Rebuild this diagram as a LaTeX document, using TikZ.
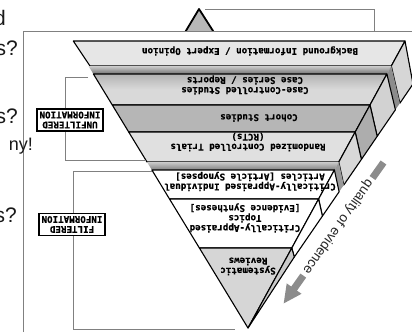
\documentclass[tikz,border=0pt]{standalone}
\usepackage{fontspec}
\setmainfont{Liberation Sans}
\newfontfamily\slabfont{DejaVu Sans Mono}[BoldFont={DejaVu Sans Mono Bold},BoldFeatures={FakeBold=0.5}]
\definecolor{apexgray}{HTML}{B8B8B8}
\definecolor{bgfill}{HTML}{E6E6E6}
\definecolor{bgside}{HTML}{D6D6D6}
\definecolor{ccfill}{HTML}{D9D9D9}
\definecolor{ccside}{HTML}{D2D2D2}
\definecolor{cofill}{HTML}{B6B6B6}
\definecolor{coside}{HTML}{ADADAD}
\definecolor{rcfill}{HTML}{E0E0E0}
\definecolor{rcside}{HTML}{D8D8D8}
\definecolor{srfill}{HTML}{D6D6D6}
\definecolor{srside}{HTML}{CACACA}
\definecolor{arrowgray}{HTML}{8C8C8C}
\tikzset{
  edge/.style={draw=black, line width=1.1pt, line join=round},
  lbl/.style={font={\slabfont\bfseries\fontsize{9.2}{10}\selectfont}, rotate=180,
    align=center, inner sep=0pt, text=black},
  tagbox/.style={draw=black, line width=1.2pt, fill=white,
    font={\slabfont\bfseries\fontsize{9.2}{10}\selectfont}, rotate=180,
    align=center, inner sep=2.5pt},
  guide/.style={draw=black!50, line width=0.8pt},
  slide/.style={font={\fontsize{21}{24}\selectfont}, text=black!90, inner sep=0pt},
}
\begin{document}
\begin{tikzpicture}[x=1pt,y=-1pt]
\useasboundingbox (0,0) rectangle (412,332);
\fill[white] (0,0) rectangle (412,332);

% tip of the upright pyramid behind the panel
\draw[guide] (205,9) -- (374,9) -- (374,31);
\filldraw[fill=apexgray, draw=black, line width=1.8pt, line join=round]
  (184,34) -- (199,9) -- (215,34);

% white panel with its border
\fill[white] (23,31) rectangle (412,332);
\draw[guide] (23,332) -- (23,31) -- (412,31);

% slab 1: background information
\path[edge, fill=bgfill] (73.3,41) -- (405,41) -- (391.3,66) -- (90,66) -- cycle;
\path[edge, fill=bgside] (405,41) -- (413,84) -- (399.9,103.2) -- (391.3,66) -- cycle;
% shadow gap
\shade[top color=black!20, bottom color=black!55] (88.5,66) -- (391.3,66) -- (386.9,74) -- (93.4,74) -- cycle;
\fill[black!45] (391.3,66) -- (399.9,103.2) -- (395.4,109.8) -- (386.9,74) -- cycle;

% unfiltered slabs
\path[edge, top color=black!30, bottom color=ccfill, middle color=ccfill]
  (93.4,74) -- (386.9,74) -- (370,105) -- (112.3,105) -- cycle;
\path[edge, fill=ccside] (386.9,74) -- (395.4,109.8) -- (377.2,136.3) -- (370,105) -- cycle;
\path[edge, fill=cofill] (112.3,105) -- (370,105) -- (355.2,132) -- (128.7,132) -- cycle;
\path[edge, fill=coside] (370,105) -- (377.2,136.3) -- (361.4,159.4) -- (355.2,132) -- cycle;
\path[edge, fill=rcfill] (128.7,132) -- (355.2,132) -- (338.8,162) -- (147,162) -- cycle;
\path[edge, fill=rcside] (355.2,132) -- (361.4,159.4) -- (343.8,185.0) -- (338.8,162) -- cycle;
% shadow gap
\shade[top color=black!20, bottom color=black!50] (147,162) -- (338.8,162) -- (334.4,170) -- (151.9,170) -- cycle;
\fill[black!40] (338.8,162) -- (343.8,185.0) -- (339.1,191.8) -- (334.4,170) -- cycle;

% filtered slabs
\path[edge, fill=white] (151.9,170) -- (334.4,170) -- (318.6,199) -- (169.5,199) -- cycle;
\path[edge, fill=white] (334.4,170) -- (339.1,191.8) -- (322.4,216.1) -- (318.6,199) -- cycle;
\path[edge, fill=white] (169.5,199) -- (318.6,199) -- (291.8,248) -- (199.4,248) -- cycle;
\path[edge, fill=white] (318.6,199) -- (322.4,216.1) -- (294.3,257.0) -- (291.8,248) -- cycle;
\path[edge, fill=srfill] (199.4,248) -- (291.8,248) -- (248,328) -- cycle;
\path[edge, fill=srside] (291.8,248) -- (294.3,257.0) -- (248,328) -- cycle;

% slab labels
\node[lbl] (bg) at (250,51) {Background Information / Expert Opinion};
\node[lbl] (cc) at (245,85) {Case-Controlled Studies\\Case Series / Reports};
\node[lbl] (co) at (259,118) {Cohort Studies};
\node[lbl] (rct) at (248,142) {Randomized Controlled Trials\\(RCTs)};
\node[lbl] (cai) at (250,181.5) {Critically-Appraised Individual\\Articles {[Article Synopses]}};
\node[lbl] (cat) at (245,218) {Critically-Appraised\\Topics\\{[Evidence Syntheses]}};
\node[lbl] (sr) at (248,266.5) {Systematic\\Reviews};

% brackets and their tags
\draw[guide] (88,77) -- (65,77) -- (65,160) -- (146,160);
\draw[guide] (152,171) -- (73,171) -- (73,329) -- (235,329);
\node[tagbox] (unf) at (70,120) {UNFILTERED\\INFORMATION};
\node[tagbox] (fil) at (72,224.5) {FILTERED\\INFORMATION};

% quality of evidence arrow
\draw[arrowgray, line width=7pt] (383.5,162.5) -- (372.5,178);
\node[font={\fontsize{13.5}{15}\selectfont}, text=black!85, rotate=234.8, inner sep=0pt]
  (qe) at (337.8,226.6) {quality of evidence};
\draw[arrowgray, line width=7pt] (303.3,275.6) -- (292.9,290.3);
\fill[arrowgray] (301.5,293.8) -- (283.7,303.4) -- (286.7,283.4) -- cycle;

% slide text running under the panel edge
\node[slide, anchor=base east] (t1) at (6,25) {d};
\node[slide, anchor=base east] (t2) at (18,55) {s?};
\node[slide, anchor=base east] (t3) at (18,123) {s?};
\node[slide, anchor=base east, font={\fontsize{18}{20}\selectfont}] (t4) at (33,150) {ny!};
\node[slide, anchor=base east] (t5) at (17,222) {s?};
\end{tikzpicture}
\end{document}
